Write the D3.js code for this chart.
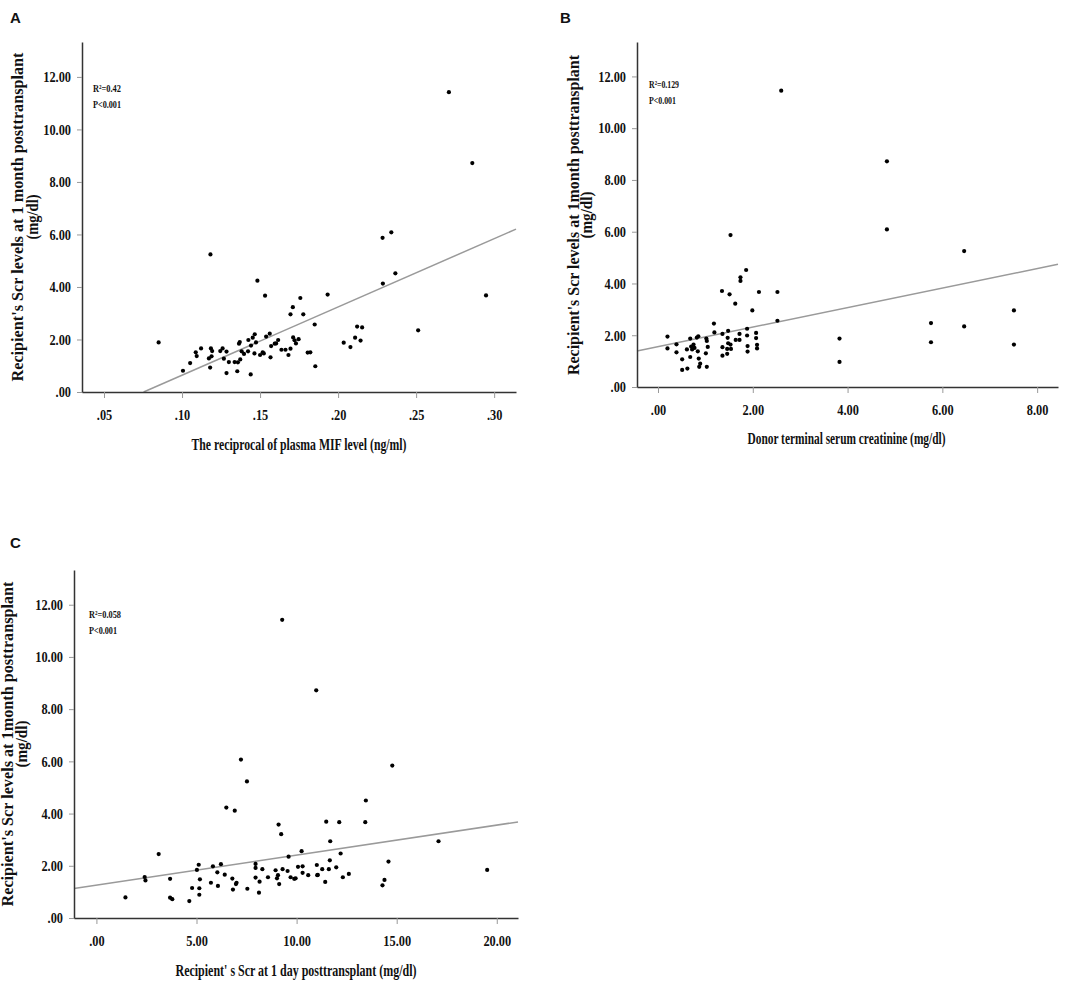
<!DOCTYPE html>
<html lang="en">
<head>
<meta charset="utf-8">
<title>Scatter plots of recipient Scr at 1 month</title>
<script src="https://cdn.jsdelivr.net/npm/d3@7"></script>
<style>
  body { margin: 0; background: #fff; }
  .tick text { font-family: "Liberation Serif", "Times New Roman", serif; font-weight: bold; font-size: 15px; fill: #111; }
  .tick line { stroke: #999; }
  .domain { stroke: #333; stroke-width: 1.5px; }
  .title { font-family: "Liberation Serif", "Times New Roman", serif; font-weight: bold; font-size: 16px; fill: #111; }
  .note { font-family: "Liberation Serif", "Times New Roman", serif; font-weight: bold; font-size: 11px; fill: #111; }
  .letter { font-family: "Liberation Sans", Arial, sans-serif; font-weight: bold; font-size: 15px; fill: #111; }
</style>
</head>
<body>
<script>
// Panel A: reciprocal of plasma MIF level vs Scr at 1 month
var aX = [.085,.1006,.1052,.1088,.1094,.1122,.1172,.118,.1182,.1185,.1189,.1193,.1245,.126,.1268,.1285,.1285,.130,.1337,.1354,
          .1358,.1365,.137,.1373,.1382,.1397,.1423,.1425,.144,.1442,.1453,.1464,.1466,.1474,.1483,.150,.1517,.1524,.1532,.1539,
          .1562,.1567,.1571,.1594,.1603,.1616,.1637,.1663,.1682,.1695,.1695,.171,.1712,.1721,.173,.1747,.1758,.1777,.1805,.1822,
          .185,.1854,.1933,.2036,.2079,.2109,.2122,.2144,.2154,.2285,.2287,.2341,.2367,.2513,.271,.286,.2948];
var aY = [1.89,0.81,1.10,1.51,1.37,1.66,1.28,0.93,5.24,1.66,1.36,1.56,1.56,1.66,1.27,1.54,0.72,1.14,1.14,0.79,
          1.13,1.84,1.90,1.24,1.55,1.45,1.55,1.98,0.67,1.77,2.07,1.47,2.20,1.89,4.24,1.41,1.51,1.47,3.67,2.11,
          2.22,1.32,1.75,1.84,1.85,1.98,1.61,1.61,1.41,2.96,1.65,3.23,2.08,1.97,1.85,2.01,3.58,2.96,1.50,1.51,
          2.57,0.98,3.71,1.88,1.71,2.07,2.49,1.96,2.46,5.87,4.13,6.08,4.52,2.35,11.42,8.72,3.68];

// Panel B: donor terminal serum creatinine vs Scr at 1 month
var bX = [0.20,0.20,0.39,0.39,0.51,0.51,0.61,0.62,0.68,0.68,0.70,0.72,0.75,0.77,0.82,0.84,0.85,0.86,0.87,0.89,
          1.02,1.03,1.01,1.05,1.03,1.18,1.19,1.35,1.36,1.36,1.36,1.46,1.46,1.47,1.48,1.48,1.51,1.53,1.53,1.54,
          1.63,1.64,1.72,1.72,1.74,1.74,1.86,1.88,1.88,1.89,1.89,1.99,2.07,2.07,2.09,2.09,2.13,2.52,2.52,2.60,
          3.83,3.83,4.83,4.83,5.76,5.76,6.46,6.46,7.51,7.51];
var bY = [1.95,1.49,1.65,1.34,1.07,0.66,1.45,0.71,1.87,1.16,1.56,1.45,1.64,1.51,1.91,1.38,1.96,1.10,0.78,0.90,
          1.87,1.78,1.30,1.55,0.78,2.45,2.11,3.71,2.05,1.54,1.21,1.47,1.28,1.90,2.17,1.69,3.58,5.87,1.64,1.47,
          3.22,1.82,2.05,1.82,4.24,4.10,4.52,2.25,1.99,1.58,1.37,2.96,2.09,1.89,1.63,1.49,3.67,3.67,2.56,11.45,
          1.87,0.97,8.72,6.09,2.47,1.73,5.25,2.34,2.96,1.64];

// Panel C: recipient Scr at 1 day vs Scr at 1 month
var cX = [1.45,2.41,2.45,3.11,3.68,3.68,3.79,4.64,4.78,5.02,5.11,5.14,5.14,5.17,5.72,5.82,6.04,6.07,6.22,6.41,
          6.49,6.79,6.82,6.91,6.97,7.00,7.22,7.52,7.54,7.95,7.95,7.95,8.12,8.15,8.29,8.57,8.95,9.02,9.07,9.10,
          9.13,9.23,9.28,9.30,9.55,9.60,9.70,9.88,9.95,10.07,10.25,10.30,10.30,10.58,10.98,11.01,11.03,11.06,11.28,11.43,
          11.48,11.61,11.66,11.68,11.98,12.13,12.20,12.31,12.61,13.43,13.46,14.29,14.39,14.59,14.78,17.09,19.52];
var cY = [0.79,1.57,1.44,2.45,1.50,0.78,0.72,0.65,1.15,1.84,2.04,1.14,0.89,1.48,1.35,1.98,1.75,1.23,2.06,1.66,
          4.23,1.51,1.09,4.11,1.30,1.35,6.07,5.23,1.12,2.07,1.92,1.55,0.97,1.39,1.87,1.56,1.83,1.52,1.64,3.58,
          1.30,3.21,11.42,1.87,1.80,2.35,1.56,1.50,1.52,1.96,2.56,1.98,1.73,1.64,8.72,2.03,1.64,1.65,1.87,1.38,
          3.69,1.87,2.21,2.94,1.94,3.67,2.47,1.56,1.69,3.67,4.50,1.25,1.46,2.16,5.84,2.94,1.84];

// regression fits [intercept, slope]
var fitA = [-1.96, 26.0], fitB = [1.562, 0.3766], fitC = [1.256, 0.1151];
var yTicks = [0, 2, 4, 6, 8, 10, 12];
var aTicks = [.05, .10, .15, .20, .25, .30];
var bTicks = [0, 2, 4, 6, 8];
var cTicks = [0, 5, 10, 15, 20];

var svg = d3.select("body").append("svg").attr("width", 1084).attr("height", 984);
var fmt = function(v) { return d3.format(".2f")(v).replace(/^0\./, "."); };

// the original labels are set in a narrow bold serif; squeeze each tick label
function squeeze(axisG) {
  axisG.selectAll(".tick text").each(function() {
    var s = this.textContent;
    var digits = s.replace(".", "").length;
    d3.select(this).attr("textLength", digits * 6.2 + 3).attr("lengthAdjust", "spacingAndGlyphs");
  });
}

function drawPanel(p) {
  var x = d3.scaleLinear().domain(p.xDomain).range([p.left, p.right]);
  var y = d3.scaleLinear().domain([0, 13.33]).range([p.bottom, p.top]);
  var g = svg.append("g");

  g.append("text").attr("class", "letter").attr("x", p.letterPos[0]).attr("y", p.letterPos[1]).text(p.letter);

  // regression line, clipped to y >= 0
  var x0 = Math.max(p.xDomain[0], -p.fit[0] / p.fit[1]);
  var x1 = p.xDomain[1];
  g.append("line")
    .attr("x1", x(x0)).attr("y1", y(p.fit[0] + p.fit[1] * x0))
    .attr("x2", x(x1)).attr("y2", y(p.fit[0] + p.fit[1] * x1))
    .attr("stroke", "#9a9a9a").attr("stroke-width", 1.5);

  g.selectAll("circle.pt")
    .data(d3.zip(p.xs, p.ys))
    .enter().append("circle")
    .attr("class", "pt")
    .attr("cx", function(d) { return x(d[0]); })
    .attr("cy", function(d) { return y(d[1]); })
    .attr("r", 2.1)
    .attr("fill", "#000");

  g.append("g").attr("transform", "translate(0," + p.bottom + ")")
    .call(d3.axisBottom(x).tickValues(p.xTicks).tickFormat(fmt).tickSize(6).tickSizeOuter(0).tickPadding(11))
    .call(squeeze);
  g.append("g").attr("transform", "translate(" + p.left + ",0)")
    .call(d3.axisLeft(y).tickValues(yTicks).tickFormat(fmt).tickSize(5).tickSizeOuter(0).tickPadding(6))
    .call(squeeze);

  // axis titles
  g.append("text").attr("class", "title")
    .attr("x", (p.left + p.right) / 2 + p.xTitle[1]).attr("y", p.xTitle[0])
    .attr("text-anchor", "middle").attr("dominant-baseline", "middle")
    .attr("textLength", p.xTitle[2]).attr("lengthAdjust", "spacingAndGlyphs")
    .text(p.xLabel);
  var cy = p.yTitle[2];
  p.yLabel.forEach(function(t, i) {
    g.append("text").attr("class", "title")
      .attr("transform", "translate(" + p.yTitle[i] + "," + cy + ") rotate(-90)")
      .attr("text-anchor", "middle").attr("dominant-baseline", "middle")
      .attr("textLength", p.yLen[i]).attr("lengthAdjust", "spacingAndGlyphs")
      .text(t);
  });

  // R-squared and P annotation
  p.note.forEach(function(t, i) {
    g.append("text").attr("class", "note")
      .attr("x", p.notePos[0]).attr("y", p.notePos[1] + i * 16)
      .attr("textLength", p.noteLen[i]).attr("lengthAdjust", "spacingAndGlyphs")
      .text(t);
  });
}

drawPanel({
  letter: "A", letterPos: [10, 23],
  xs: aX, ys: aY, fit: fitA, xTicks: aTicks,
  xDomain: [0.0359, 0.314], left: 82, right: 516, top: 42, bottom: 392,
  xLabel: "The reciprocal of plasma MIF level (ng/ml)", xTitle: [446, 0, 215],
  yLabel: ["Recipient's Scr levels at 1 month posttransplant", "(mg/dl)"],
  yTitle: [19, 34, 217], yLen: [329, 45],
  note: ["R²=0.42", "P<0.001"], notePos: [93, 92], noteLen: [28, 28]
});

drawPanel({
  letter: "B", letterPos: [560, 23],
  xs: bX, ys: bY, fit: fitB, xTicks: bTicks,
  xDomain: [-0.443, 8.44], left: 637, right: 1058, top: 42, bottom: 387,
  xLabel: "Donor terminal serum creatinine (mg/dl)", xTitle: [440, -1, 198],
  yLabel: ["Recipient's Scr levels at 1month posttransplant", "(mg/dl)"],
  yTitle: [575, 588, 215], yLen: [320, 47],
  note: ["R²=0.129", "P<0.001"], notePos: [649, 88], noteLen: [30, 27]
});

drawPanel({
  letter: "C", letterPos: [10, 548],
  xs: cX, ys: cY, fit: fitC, xTicks: cTicks,
  xDomain: [-1.12, 21.06], left: 74, right: 518, top: 570, bottom: 918,
  xLabel: "Recipient' s Scr at 1 day posttransplant (mg/dl)", xTitle: [972, 0, 241],
  yLabel: ["Recipient's Scr levels at 1month posttransplant", "(mg/dl)"],
  yTitle: [9, 23, 744], yLen: [325, 47],
  note: ["R²=0.058", "P<0.001"], notePos: [89, 618], noteLen: [32, 28]
});
</script>
</body>
</html>
